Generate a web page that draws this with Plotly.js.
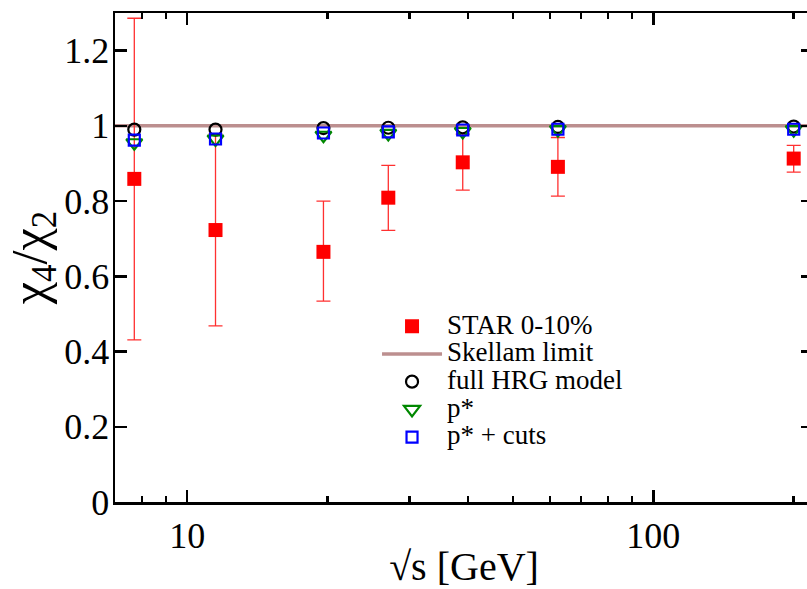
<!DOCTYPE html>
<html>
<head>
<meta charset="utf-8">
<script src="https://cdn.plot.ly/plotly-3.0.1.min.js"></script>
<style>
html, body { margin: 0; padding: 0; overflow: hidden; background: #fff; }
#chart { width: 830px; height: 589px; }
</style>
</head>
<body>
<div id="chart"></div>
<script>
// collision energies sqrt(s) in GeV
const energies = [7.7, 11.5, 19.6, 27, 39, 62.4, 200];
// STAR 0-10% chi4/chi2 with errors
const starValues = [0.859, 0.723, 0.665, 0.809, 0.903, 0.891, 0.913];
const starErrPlus = [0.427, 0.255, 0.135, 0.086, 0.075, 0.078, 0.035];
const starErrMinus = [0.428, 0.255, 0.131, 0.087, 0.074, 0.078, 0.036];
// Skellam limit
const skellamX = [7, 220];
const skellamY = [1, 1];
// HRG model variants
const hrgFull = [0.99, 0.99, 0.994, 0.995, 0.996, 0.997, 0.998];
const pStar = [0.955, 0.965, 0.975, 0.98, 0.985, 0.99, 0.99];
const pStarCuts = [0.962, 0.965, 0.981, 0.984, 0.989, 0.991, 0.991];
// tick values
const yTicks = [0, 0.2, 0.4, 0.6, 0.8, 1, 1.2];
const xMajorTicks = [10, 100];
const xMinorTicks = [8, 9, 20, 30, 40, 50, 60, 70, 80, 90, 200];
// legend labels
const seriesNames = ['STAR 0-10%', 'Skellam limit', 'full HRG model', 'p*', 'p* + cuts'];

const serif = 'Liberation Serif';
const big = s => '<span style="font-size:27px">' + s + '</span>';

const traces = [
  {
    x: skellamX, y: skellamY, mode: 'lines', name: big(seriesNames[1]),
    line: {color: '#bc8f8f', width: 3.5}, legendrank: 2
  },
  {
    x: energies, y: starValues, mode: 'markers', name: big(seriesNames[0]),
    marker: {symbol: 'square', size: 14, color: '#ff0000'},
    error_y: {type: 'data', symmetric: false, array: starErrPlus, arrayminus: starErrMinus,
              color: '#ff3030', thickness: 1.3, width: 7},
    legendrank: 1
  },
  {
    x: energies, y: hrgFull, mode: 'markers', name: big(seriesNames[2]),
    marker: {symbol: 'circle-open', size: 12, color: '#000000', line: {width: 2.2}},
    legendrank: 3
  },
  {
    x: energies, y: pStar, mode: 'markers', name: big(seriesNames[3]),
    marker: {symbol: 'triangle-down-open', size: 14, color: '#008800', line: {width: 2.2}},
    legendrank: 4
  },
  {
    x: energies, y: pStarCuts, mode: 'markers', name: big(seriesNames[4]),
    marker: {symbol: 'square-open', size: 11, color: '#0000ff', line: {width: 2.2}},
    legendrank: 5
  }
];

const layout = {
  width: 830, height: 589,
  margin: {l: 115, r: 17, t: 13, b: 87},
  paper_bgcolor: '#ffffff', plot_bgcolor: '#ffffff',
  font: {family: serif, color: '#000000'},
  showlegend: true,
  legend: {
    x: 0.3754, y: 0.398, xanchor: 'left', yanchor: 'top',
    bgcolor: 'rgba(0,0,0,0)', borderwidth: 0, itemwidth: 60,
    font: {family: serif, size: 19, color: '#000'},
    tracegroupgap: 0
  },
  xaxis: {
    type: 'log', range: [Math.log10(7), Math.log10(220)],
    showgrid: false, zeroline: false,
    showline: true, linecolor: '#000', linewidth: 2.5, mirror: 'allticks',
    ticks: 'inside', ticklen: 12, tickwidth: 2.5, tickcolor: '#000',
    tickmode: 'array', tickvals: xMajorTicks, ticktext: xMajorTicks.map(String),
    tickfont: {family: serif, size: 36, color: '#000'},
    minor: {tickmode: 'array', tickvals: xMinorTicks, ticks: 'inside', ticklen: 6, tickwidth: 2.5, tickcolor: '#000', showgrid: false},
    title: {text: '√s [GeV]', font: {family: serif, size: 40, color: '#000'}, standoff: 8}
  },
  yaxis: {
    range: [0, 1.3],
    showgrid: false, zeroline: false,
    showline: true, linecolor: '#000', linewidth: 2.5, mirror: 'allticks',
    ticks: 'inside', ticklen: 12, tickwidth: 2.5, tickcolor: '#000',
    tickmode: 'array', tickvals: yTicks, ticktext: yTicks.map(String),
    tickfont: {family: serif, size: 36, color: '#000'},
    ticklabelstandoff: -4,
    title: {text: '\u00a0\u00a0χ<sub>4</sub>/χ<sub>2</sub>', font: {family: serif, size: 50, color: '#000'}, standoff: 0}
  }
};

Plotly.newPlot('chart', traces, layout, {displayModeBar: false, staticPlot: true});
</script>
</body>
</html>
